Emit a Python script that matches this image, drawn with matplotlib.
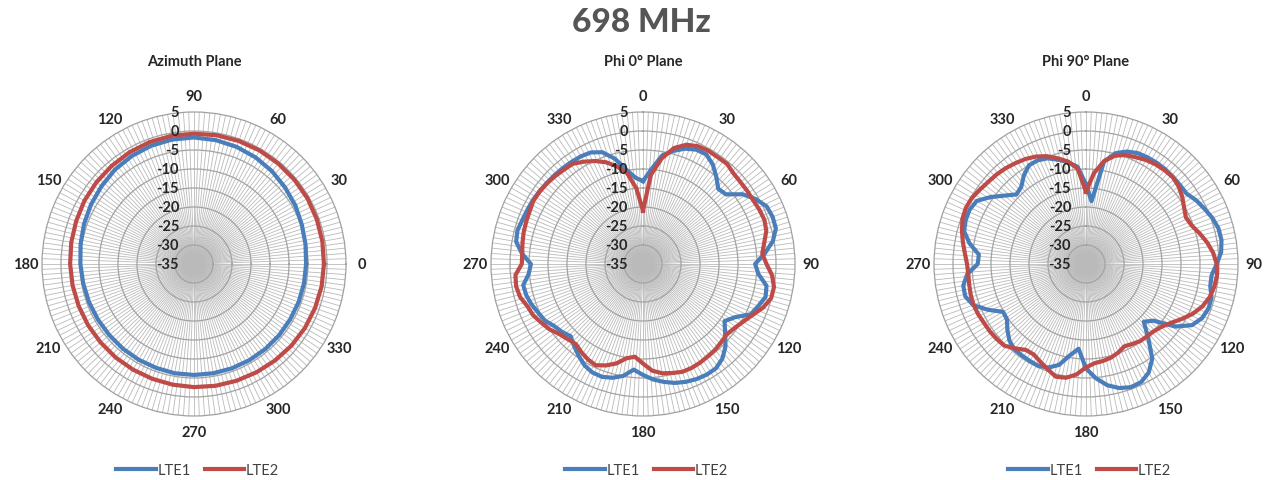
import numpy as np
import matplotlib
matplotlib.use("Agg")
import matplotlib.pyplot as plt
from matplotlib.lines import Line2D
from matplotlib.transforms import offset_copy

# ---------------- data ----------------
TITLE = "698 MHz"
PANEL_TITLES = ["Azimuth Plane", "Phi 0° Plane", "Phi 90° Plane"]
SERIES_NAMES = ["LTE1", "LTE2"]

AZ_ANGLES = list(range(0, 360, 10))
AZ_LTE1 = [-5.5, -5.2, -4.8, -4.2, -3.7, -3.1, -2.6, -2.2, -1.9, -1.7, -1.75, -1.9,
           -2.2, -2.6, -3.2, -3.7, -4.2, -4.7, -5.1, -5.4, -5.6, -5.8, -5.9, -5.9,
           -5.9, -5.9, -5.8, -5.8, -5.8, -5.8, -5.8, -5.8, -5.8, -5.8, -5.7, -5.6]
AZ_LTE2 = [-0.8, -0.7, -0.6, -0.5, -0.5, -0.5, -0.5, -0.55, -0.6, -0.7, -0.75, -0.85,
           -1.05, -1.3, -1.5, -1.7, -2.0, -2.2, -2.4, -2.55, -2.7, -2.8, -2.9, -2.9,
           -2.9, -2.85, -2.75, -2.6, -2.45, -2.3, -2.1, -1.85, -1.55, -1.3, -1.1, -0.9]

PHI_ANGLES = list(range(0, 360, 5))
PHI0_LTE1 = [-13.2, -10.0, -6.0, -4.2, -2.7, -1.8, -1.7, -3.0, -5.0, -7.0, -6.5, -3.0,
             -0.8, 0.9, 1.3, 1.2, -0.3, -2.8, -5.5, -4.5, -2.0, -1.6, -2.7, -3.7,
             -7.0, -8.8, -6.8, -4.3, -2.5, -1.5, -1.4, -1.6, -2.0, -2.6, -3.5, -4.5,
             -5.8, -7.1, -5.1, -4.0, -3.4, -3.5, -4.2, -5.5, -6.8, -8.1, -7.2, -6.5,
             -5.2, -4.6, -3.8, -3.2, -3.0, -4.8, -5.5, -3.0, -1.1, -0.8, -1.2, -1.4,
             -1.5, -1.7, -1.9, -2.0, -2.1, -2.2, -2.3, -2.6, -3.7, -6.3, -9.8, -12.2]
PHI0_LTE2 = [-21.0, -11.5, -6.8, -3.4, -1.6, -0.8, -0.6, -0.7, -0.6, -1.3, -1.5, -1.5,
             -1.5, -1.2, -1.0, -1.4, -2.6, -3.5, -2.5, -0.9, 0.0, -0.1, -1.4, -3.2,
             -4.6, -5.6, -6.2, -5.9, -5.5, -5.3, -5.0, -4.8, -4.8, -5.3, -5.8, -6.8,
             -8.8, -10.5, -9.8, -7.9, -6.6, -5.6, -6.0, -6.7, -7.5, -7.0, -6.3, -5.0,
             -4.1, -3.1, -2.6, -1.5, -1.1, -1.3, -3.1, -3.1, -2.8, -2.5, -2.3, -2.1,
             -1.7, -1.8, -2.0, -2.3, -2.6, -2.8, -3.9, -5.1, -6.5, -8.4, -10.7, -15.0]
PHI90_LTE1 = [-14.0, -18.4, -7.6, -4.8, -3.5, -2.8, -2.6, -2.5, -2.5, -2.6, -2.7, -2.7,
              -1.5, -0.6, 0.4, 1.1, 1.2, 0.7, -0.6, -1.8, -1.8, -0.8, -0.7, -1.3,
              -2.8, -6.3, -11.8, -13.5, -9.5, -4.6, -2.0, -0.7, -0.5, -1.2, -2.6, -4.8,
              -7.5, -12.6, -10.6, -7.5, -6.0, -5.4, -5.5, -5.6, -5.7, -6.5, -8.0, -9.6,
              -9.8, -6.5, -3.4, -2.1, -2.2, -3.6, -6.5, -6.7, -3.9, -1.8, -1.3, -1.2,
              -1.8, -4.3, -7.0, -9.1, -8.5, -6.5, -5.0, -4.9, -5.4, -6.6, -7.8, -9.3]
PHI90_LTE2 = [-16.0, -11.0, -7.5, -5.5, -4.5, -4.0, -3.4, -3.0, -2.8, -2.7, -3.2, -4.1,
              -5.2, -6.0, -5.4, -4.0, -2.6, -1.4, -0.6, -0.4, -0.7, -1.3, -2.4, -4.0,
              -6.0, -7.9, -9.2, -9.9, -10.1, -10.2, -10.7, -11.1, -10.2, -9.5, -9.1, -8.8,
              -7.8, -5.8, -4.6, -4.3, -5.5, -6.6, -7.5, -7.4, -6.0, -4.6, -4.3, -4.1,
              -4.0, -3.7, -3.5, -3.6, -3.8, -3.9, -3.7, -3.0, -2.1, -1.2, -0.4, -0.1,
              -0.3, -0.9, -1.4, -1.7, -2.1, -2.6, -3.1, -3.8, -4.8, -6.2, -7.6, -9.8]

R_TICKS = [-35, -30, -25, -20, -15, -10, -5, 0, 5]
ANGLE_TICKS = list(range(0, 360, 30))

# ---------------- style ----------------
W, H = 1269, 481
BLUE = "#4A7EBB"
RED = "#BE4B48"
FONT = ["Lato", "DejaVu Sans"]
plt.rcParams["font.family"] = FONT

fig = plt.figure(figsize=(W / 100, H / 100), dpi=100)
fig.patch.set_facecolor("white")

R_PX = 152
CY = 265
CENTERS = [194, 643, 1086]


def draw_panel(cx, title, angles, s1, s2, zero, direction, top_theta):
    ax = fig.add_axes([(cx - R_PX) / W, (H - CY - R_PX) / H, 2 * R_PX / W, 2 * R_PX / H],
                      projection="polar")
    ax.set_theta_zero_location(zero)
    ax.set_theta_direction(direction)
    ax.set_ylim(R_TICKS[0], R_TICKS[-1])
    ax.set_yticks(R_TICKS[1:-1])
    ax.set_yticklabels([])
    ax.set_xticks(np.deg2rad(np.arange(0, 360, 2)))
    ax.set_xticklabels([])
    ax.tick_params(length=0)
    ax.xaxis.grid(True, color="#bababa", lw=0.6)
    ax.yaxis.grid(True, color="#a3a3a3", lw=0.9)
    ax.spines["polar"].set_color("#a0a0a0")
    ax.spines["polar"].set_linewidth(0.9)

    th = np.deg2rad(list(angles) + [angles[0]])
    ax.plot(th, list(s1) + [s1[0]], color=BLUE, lw=3.0, solid_joinstyle="round", zorder=3)
    ax.plot(th, list(s2) + [s2[0]], color=RED, lw=3.0, solid_joinstyle="round", zorder=4)

    # radial labels along the top spoke
    tr = offset_copy(ax.transData, fig=fig, x=-15, y=0, units="dots")
    for r in R_TICKS:
        ax.text(top_theta, r, str(r), transform=tr, ha="right", va="center",
                fontsize=10.5, fontweight="bold", color="#262626", zorder=5)
    # angle labels
    r_lab = R_TICKS[-1] + 16 / R_PX * (R_TICKS[-1] - R_TICKS[0])
    for a in ANGLE_TICKS:
        ax.text(np.deg2rad(a), r_lab, str(a), ha="center", va="center",
                fontsize=10.5, fontweight="bold", color="#262626")

    fig.text(cx / W, 1 - 62 / H, title, ha="center", va="center",
             fontsize=10.5, fontweight="bold", color="#262626")

    handles = [Line2D([], [], color=BLUE, lw=3.0), Line2D([], [], color=RED, lw=3.0)]
    fig.legend(handles, SERIES_NAMES, loc="center", bbox_to_anchor=(cx / W + 0.003, 1 - 471 / H),
               ncol=2, frameon=False, handlelength=2.7, handletextpad=0.1,
               columnspacing=1.0, prop={"family": FONT, "size": 10.5}, labelcolor="#404040")
    return ax


draw_panel(CENTERS[0], PANEL_TITLES[0], AZ_ANGLES, AZ_LTE1, AZ_LTE2, "E", 1, np.pi / 2)
draw_panel(CENTERS[1], PANEL_TITLES[1], PHI_ANGLES, PHI0_LTE1, PHI0_LTE2, "N", -1, 0.0)
draw_panel(CENTERS[2], PANEL_TITLES[2], PHI_ANGLES, PHI90_LTE1, PHI90_LTE2, "N", -1, 0.0)

fig.text(641 / W, 1 - 22 / H, TITLE, ha="center", va="center",
         fontsize=24, fontweight="black", color="#555555")

fig.savefig("out.png", dpi=100, facecolor="white")
